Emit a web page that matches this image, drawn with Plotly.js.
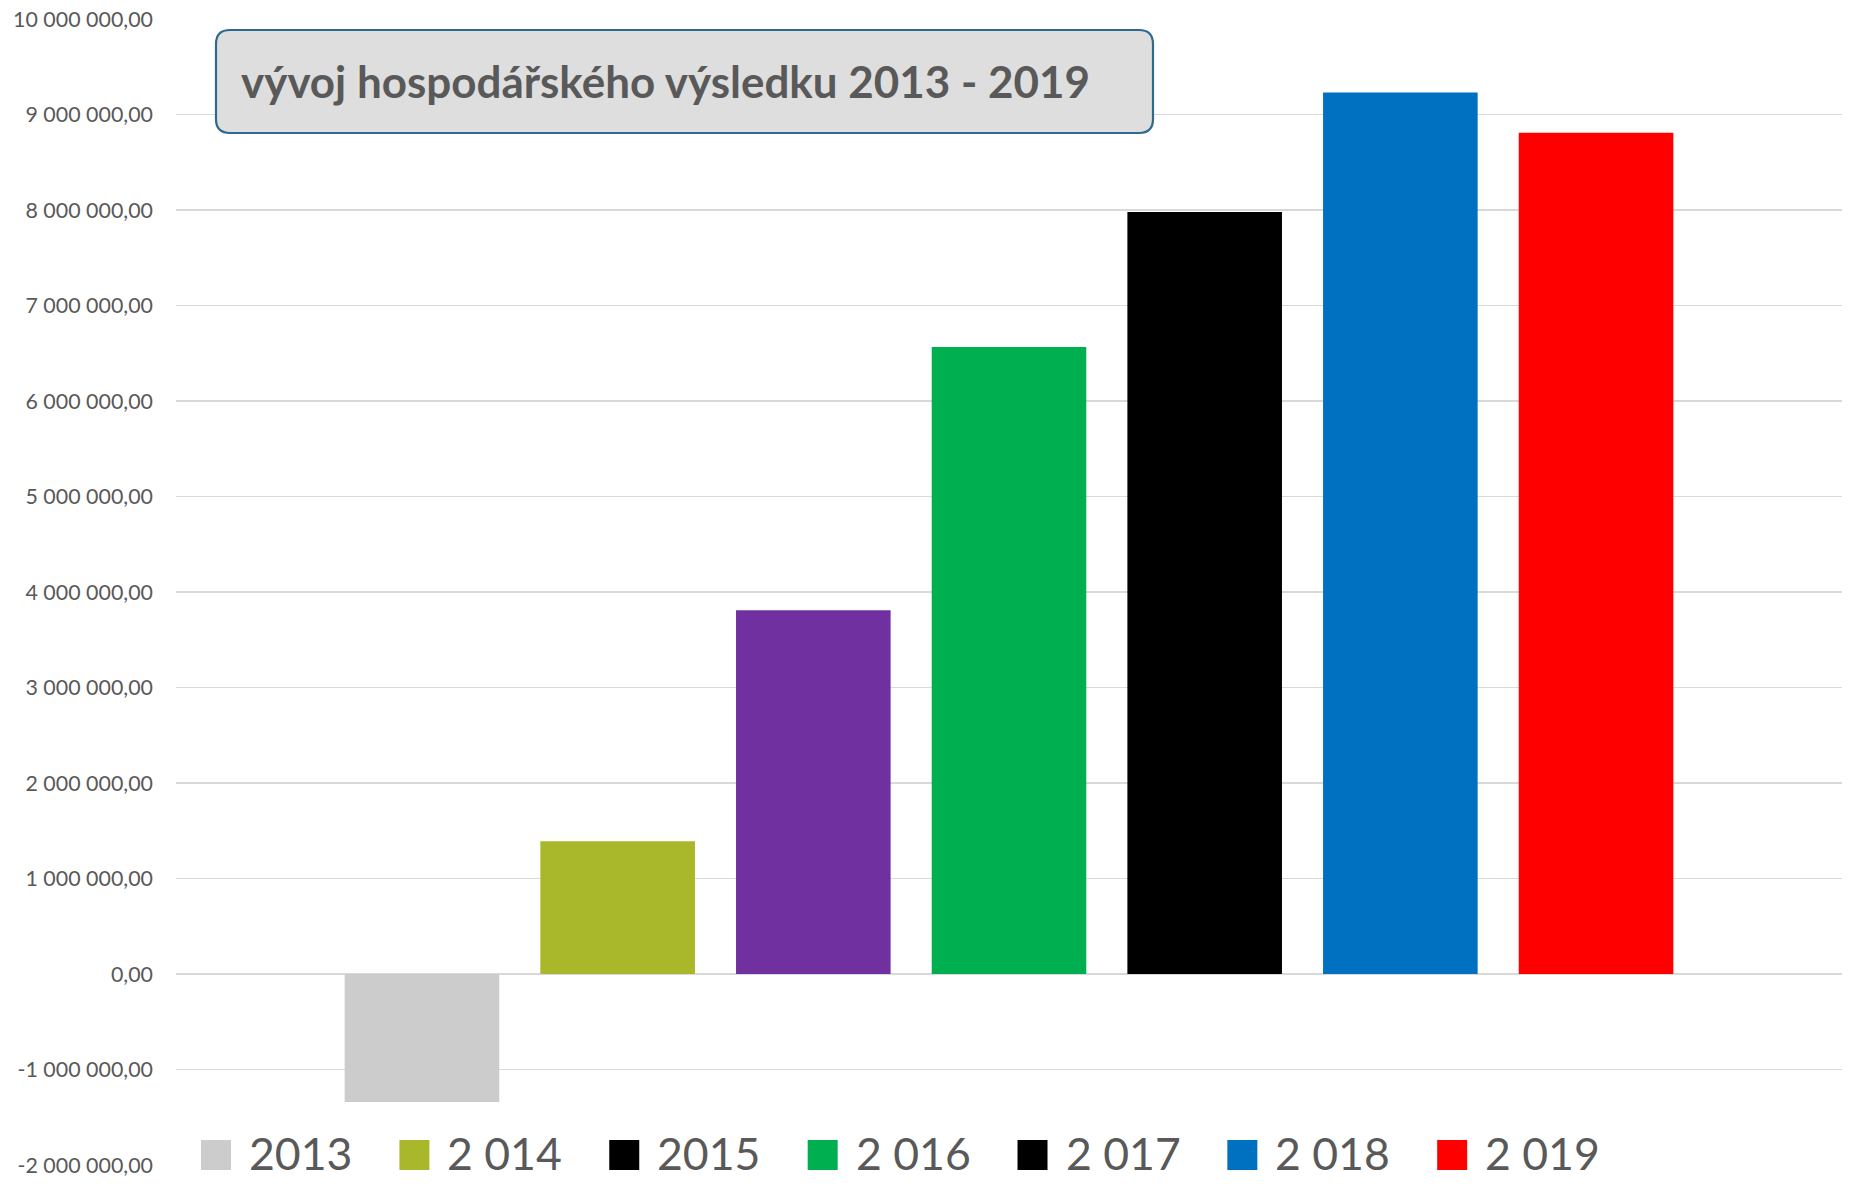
<!DOCTYPE html>
<html>
<head>
<meta charset="utf-8">
<script src="https://cdn.plot.ly/plotly-3.0.1.min.js"></script>
<style>html,body{margin:0;padding:0;background:#fff;}#chart{width:1854px;height:1184px;}</style>
</head>
<body>
<div id="chart"></div>
<script>
// ---- data ----
const categories = ['2013', '2 014', '2015', '2 016', '2 017', '2 018', '2 019'];
const values = [-1340000, 1390000, 3810000, 6565000, 7980000, 9230000, 8810000];
const barColors = ['#cccccc', '#a8b82a', '#7030a0', '#00b050', '#000000', '#0070c0', '#ff0000'];
const legendColors = ['#cccccc', '#a8b82a', '#000000', '#00b050', '#000000', '#0070c0', '#ff0000'];
const yTickValues = [-2000000, -1000000, 0, 1000000, 2000000, 3000000, 4000000, 5000000, 6000000, 7000000, 8000000, 9000000, 10000000];
const titleText = 'vývoj hospodářského výsledku 2013 - 2019';

// ---- helpers ----
const W = 1854, H = 1184;
const M = {l: 176, r: 12, t: 19, b: 19};
const PW = W - M.l - M.r, PH = H - M.t - M.b;
const px2x = p => (p - M.l) / PW;
const py2y = p => (H - M.b - p) / PH;

function fmt(v) {
  const neg = v < 0;
  let s = Math.abs(Math.round(v)).toString();
  s = s.replace(/\B(?=(\d{3})+(?!\d))/g, ' ');
  return (neg ? '-' : '') + s + ',00';
}
const canvas = document.createElement('canvas');
const ctx = canvas.getContext('2d');
function textW(text, weight, family, size) {
  ctx.font = weight + ' ' + size + 'px ' + family;
  return ctx.measureText(text).width;
}
function fit(text, weight, family, target) {
  return 100 * target / textW(text, weight, family, 100);
}

const FAM = 'Lato';
const tickSize = fit('10 000 000,00', 'normal', FAM, 140);
const titleSize = fit(titleText, 'bold', FAM, 850);

// legend: fit so that the whole row spans 201 -> 1598 px
const LEG_X0 = 201, LEG_X1 = 1598, SW = 30, SW_GAP = 16, ITEM_GAP = 49;
const unitW = categories.reduce((a, c) => a + textW(c, 'normal', FAM, 1), 0);
const legSize = (LEG_X1 - LEG_X0 - categories.length * (SW + SW_GAP) - (categories.length - 1) * ITEM_GAP) / unitW;

// ---- title box ----
function roundRect(x0, y0, x1, y1, r) {
  const X = px2x, Y = py2y;
  return 'M' + X(x0 + r) + ',' + Y(y0) +
    ' L' + X(x1 - r) + ',' + Y(y0) +
    ' Q' + X(x1) + ',' + Y(y0) + ' ' + X(x1) + ',' + Y(y0 + r) +
    ' L' + X(x1) + ',' + Y(y1 - r) +
    ' Q' + X(x1) + ',' + Y(y1) + ' ' + X(x1 - r) + ',' + Y(y1) +
    ' L' + X(x0 + r) + ',' + Y(y1) +
    ' Q' + X(x0) + ',' + Y(y1) + ' ' + X(x0) + ',' + Y(y1 - r) +
    ' L' + X(x0) + ',' + Y(y0 + r) +
    ' Q' + X(x0) + ',' + Y(y0) + ' ' + X(x0 + r) + ',' + Y(y0) + ' Z';
}

const shapes = [{
  type: 'path', xref: 'paper', yref: 'paper', layer: 'above',
  path: roundRect(216, 30, 1153, 133, 14),
  fillcolor: '#dedede', line: {color: '#2f6a8e', width: 2.2}
}];
const annotations = [];

// ---- custom legend ----
let lx = LEG_X0;
const swTop = 1140, swBot = 1170;
categories.forEach((c, i) => {
  shapes.push({
    type: 'rect', xref: 'paper', yref: 'paper', layer: 'above',
    x0: px2x(lx), x1: px2x(lx + SW), y0: py2y(swBot), y1: py2y(swTop),
    fillcolor: legendColors[i], line: {width: 0}
  });
  const tw = textW(c, 'normal', FAM, legSize);
  annotations.push({
    xref: 'paper', yref: 'paper', x: px2x(lx + SW + SW_GAP), y: py2y(swBot - 0.387 * legSize),
    xanchor: 'left', yanchor: 'middle', showarrow: false, text: c,
    font: {family: FAM, size: legSize, color: '#595959'}
  });
  lx += SW + SW_GAP + tw + ITEM_GAP;
});

const trace = {
  type: 'bar', x: categories, y: values, name: 'výsledek',
  marker: {color: barColors, line: {width: 0}},
  hoverinfo: 'skip', showlegend: false
};

const layout = {
  width: W, height: H,
  margin: M,
  paper_bgcolor: '#ffffff', plot_bgcolor: '#ffffff',
  showlegend: false,
  bargap: 0.21,
  title: {
    text: titleText, xref: 'container', yref: 'container',
    x: 241 / W, xanchor: 'left', y: 1 - 83 / H, yanchor: 'middle',
    font: {family: FAM, size: titleSize, color: '#595959', weight: 'bold'}
  },
  xaxis: {
    type: 'category', range: [-1.257, 7.257],
    showgrid: false, showticklabels: false, zeroline: false, showline: false, ticks: ''
  },
  yaxis: {
    range: [-2000000, 10000000],
    tickmode: 'array', tickvals: yTickValues, ticktext: yTickValues.map(fmt),
    showgrid: true, gridcolor: '#d9d9d9', gridwidth: 1.6,
    zeroline: false, showline: false, ticks: '', ticklabelstandoff: 22,
    tickfont: {family: FAM, size: tickSize, color: '#595959'}
  },
  shapes: shapes,
  annotations: annotations
};

Plotly.newPlot('chart', [trace], layout, {displayModeBar: false, staticPlot: true});
</script>
</body>
</html>
